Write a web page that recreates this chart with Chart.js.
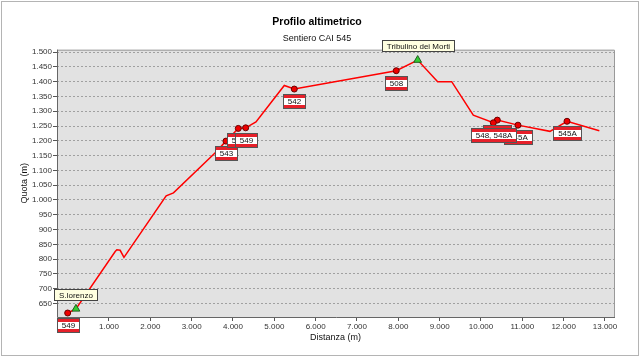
<!DOCTYPE html>
<html>
<head>
<meta charset="utf-8">
<script src="https://cdn.jsdelivr.net/npm/chart.js@4.4.1/dist/chart.umd.min.js"></script>
<style>
  html, body { margin: 0; padding: 0; background: #fff; }
  #wrap { width: 640px; height: 357px; }
</style>
</head>
<body>
<div id="wrap"><canvas id="profilo" width="640" height="357"></canvas></div>
<script>
// ── Profilo (distanza m / quota m) ─────────────────────────────
const distanza = [0, 200, 1150, 1190, 1270, 1362, 2383, 2560, 3564, 3830, 4128, 4307, 4556, 5241, 5483, 7950, 8468, 8952, 9291, 9814, 10298, 10395, 10895, 11669, 12081, 12863];
const quota    = [618, 632, 826, 832, 830, 806, 1014, 1024, 1159, 1199, 1242, 1244, 1264, 1387, 1375, 1437, 1473, 1400, 1400, 1287, 1261, 1270, 1253, 1232, 1266, 1234];

// ── Incroci sentieri (pallini rossi) ───────────────────────────
const sentDist  = [0, 3830, 4128, 4307, 5483, 7950, 10395, 10895, 10298, 12081];
const sentQuota = [618, 1199, 1242, 1244, 1375, 1437, 1270, 1253, 1261, 1266];
const sentNomi  = ['549', '543', '545', '549', '542', '508', '548A', '545A', '548, 548A', '545A'];

// ── Punti notevoli (triangoli verdi) ───────────────────────────
const cimeDist  = [200, 8468];
const cimeQuota = [632, 1473];
const cimeNomi  = ['S.lorenzo', 'Tribulino dei Morti'];

// ── Tick ───────────────────────────────────────────────────────
const xTicks = [1000, 2000, 3000, 4000, 5000, 6000, 7000, 8000, 9000, 10000, 11000, 12000, 13000];
const yTicks = [650, 700, 750, 800, 850, 900, 950, 1000, 1050, 1100, 1150, 1200, 1250, 1300, 1350, 1400, 1450, 1500];

const FONT = "'Liberation Sans', Arial, sans-serif";
Chart.defaults.font.family = FONT;

function fmt(v) {
  return String(v).replace(/\B(?=(\d{3})+(?!\d))/g, '.');
}

function drawTrailBox(ctx, cx, top, text) {
  ctx.font = '8px ' + FONT;
  const w = Math.round(ctx.measureText(text).width + 9);
  const h = 14;
  const x = Math.round(cx - w / 2) + 0.5, y = Math.round(top) + 0.5;
  ctx.fillStyle = '#fff';
  ctx.fillRect(x, y, w, h);
  ctx.fillStyle = '#e6202a';
  ctx.fillRect(x, y, w, 3.5);
  ctx.fillRect(x, y + h - 3.5, w, 3.5);
  ctx.strokeStyle = '#555';
  ctx.lineWidth = 1;
  ctx.strokeRect(x, y, w, h);
  ctx.fillStyle = '#111';
  ctx.textAlign = 'center';
  ctx.textBaseline = 'middle';
  ctx.fillText(text, x + w / 2, y + h / 2 + 0.5);
}

function drawNote(ctx, cx, bottom, text) {
  ctx.font = '8px ' + FONT;
  const w = Math.round(ctx.measureText(text).width + 9);
  const h = 11;
  const x = Math.round(cx - w / 2) + 0.5, y = Math.round(bottom - h) + 0.5;
  ctx.fillStyle = '#ffffe1';
  ctx.fillRect(x, y, w, h);
  ctx.strokeStyle = '#444';
  ctx.lineWidth = 1;
  ctx.strokeRect(x, y, w, h);
  ctx.fillStyle = '#111';
  ctx.textAlign = 'center';
  ctx.textBaseline = 'middle';
  ctx.fillText(text, x + w / 2, y + h / 2 + 0.5);
}

const decor = {
  id: 'decor',
  beforeDraw(chart) {
    const { ctx, chartArea: a } = chart;
    ctx.save();
    ctx.fillStyle = '#fff';
    ctx.fillRect(0, 0, chart.width, chart.height);
    ctx.fillStyle = '#e2e2e2';
    ctx.fillRect(a.left, a.top, a.right - a.left, a.bottom - a.top);
    ctx.strokeStyle = '#b4b4b4';
    ctx.lineWidth = 1;
    ctx.strokeRect(1.5, 1.5, chart.width - 3, chart.height - 3);
    ctx.restore();
  },
  beforeDatasetsDraw(chart) {
    const { ctx, chartArea: a } = chart;
    ctx.save();
    ctx.lineWidth = 1;
    ctx.strokeStyle = '#999';
    ctx.beginPath();
    ctx.moveTo(a.left, a.top + 0.5);
    ctx.lineTo(a.right + 0.5, a.top + 0.5);
    ctx.lineTo(a.right + 0.5, a.bottom);
    ctx.stroke();
    ctx.strokeStyle = '#666';
    ctx.beginPath();
    ctx.moveTo(a.left + 0.5, a.top);
    ctx.lineTo(a.left + 0.5, a.bottom + 0.5);
    ctx.lineTo(a.right + 1, a.bottom + 0.5);
    ctx.stroke();
    ctx.restore();
  },
  afterDatasetsDraw(chart) {
    const { ctx } = chart;
    const xs = chart.scales.x, ys = chart.scales.y;
    ctx.save();
    sentNomi.forEach((n, i) => {
      drawTrailBox(ctx, xs.getPixelForValue(sentDist[i]), ys.getPixelForValue(sentQuota[i]) + 5, n);
    });
    cimeNomi.forEach((n, i) => {
      drawNote(ctx, xs.getPixelForValue(cimeDist[i]), ys.getPixelForValue(cimeQuota[i]) - 9, n);
    });
    ctx.restore();
  }
};

new Chart(document.getElementById('profilo').getContext('2d'), {
  type: 'line',
  data: {
    datasets: [
      {
        label: 'Profilo',
        data: distanza.map((d, i) => ({ x: d, y: quota[i] })),
        borderColor: '#ff0000',
        borderWidth: 1.5,
        pointRadius: 0,
        tension: 0,
        order: 3
      },
      {
        type: 'scatter',
        label: 'Sentieri',
        data: sentDist.map((d, i) => ({ x: d, y: sentQuota[i] })),
        pointStyle: 'circle',
        pointRadius: 3,
        backgroundColor: '#ee0000',
        borderColor: '#6a0000',
        borderWidth: 1,
        order: 2
      },
      {
        type: 'scatter',
        label: 'Punti',
        data: cimeDist.map((d, i) => ({ x: d, y: cimeQuota[i] })),
        pointStyle: 'triangle',
        pointRadius: 4.5,
        backgroundColor: '#33cc33',
        borderColor: '#1f5f1f',
        borderWidth: 1,
        order: 1
      }
    ]
  },
  options: {
    responsive: false,
    animation: false,
    layout: { padding: { left: 20, right: 26, top: 0, bottom: 0 } },
    plugins: {
      legend: { display: false },
      tooltip: { enabled: false },
      title: {
        display: true,
        text: 'Profilo altimetrico',
        color: '#000',
        font: { size: 10.5, weight: 'bold', lineHeight: 1.2 },
        padding: { top: 15.4, bottom: 3 }
      },
      subtitle: {
        display: true,
        text: 'Sentiero CAI 545',
        color: '#111',
        font: { size: 9, lineHeight: 1.2 },
        padding: { top: 2.6, bottom: 5.3 }
      }
    },
    scales: {
      x: {
        type: 'linear',
        min: -258,
        max: 13218,
        afterBuildTicks: s => { s.ticks = xTicks.map(v => ({ value: v })); },
        afterFit: s => { s.height = 40; },
        grid: { drawOnChartArea: false, drawTicks: true, tickLength: 4, tickColor: '#555' },
        border: { display: false },
        ticks: { color: '#333', font: { size: 8 }, padding: 1, maxRotation: 0, autoSkip: false, callback: v => fmt(v) },
        title: { display: true, text: 'Distanza (m)', color: '#111', font: { size: 9, lineHeight: 1.2 }, padding: { top: 0, bottom: 14.3 } }
      },
      y: {
        min: 604.5,
        max: 1508,
        afterBuildTicks: s => { s.ticks = yTicks.map(v => ({ value: v })); },
        afterFit: s => { s.width = 37; },
        grid: { color: '#a0a0a0', lineWidth: 1, drawTicks: true, tickLength: 4, tickColor: '#555', tickBorderDash: [] },
        border: { display: false, dash: [2, 2] },
        ticks: { color: '#333', font: { size: 8 }, padding: 1, autoSkip: false, callback: v => fmt(v) },
        title: { display: true, text: 'Quota (m)', color: '#111', font: { size: 9, lineHeight: 1.2 }, padding: { top: -1, bottom: 0 } }
      }
    }
  },
  plugins: [decor]
});
</script>
</body>
</html>
